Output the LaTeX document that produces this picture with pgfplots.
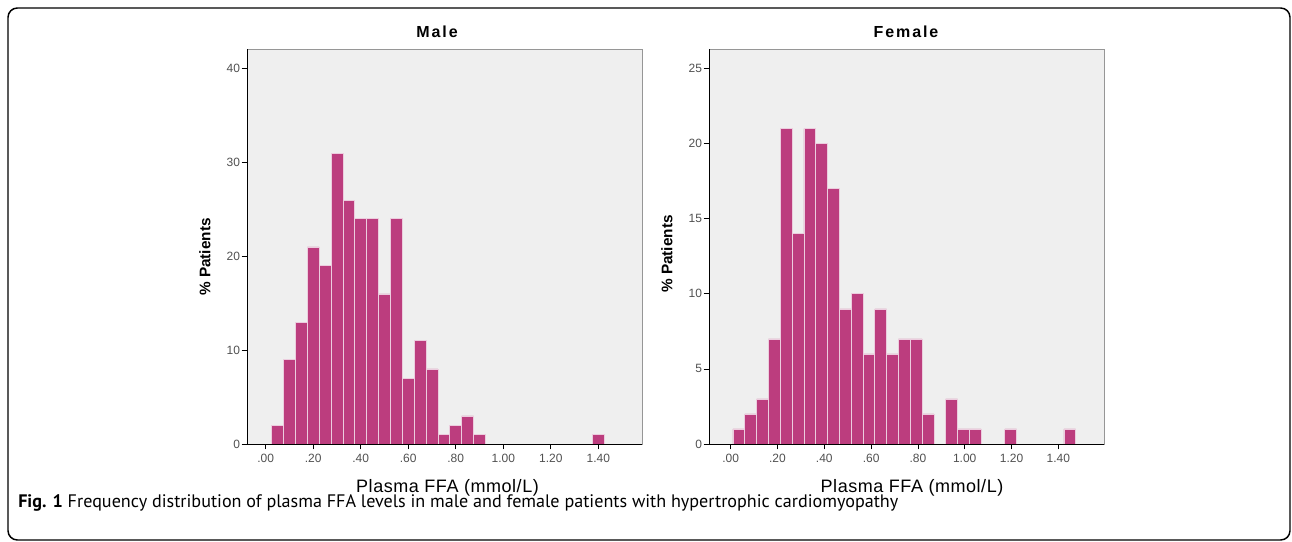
\documentclass[border=0pt]{standalone}
\usepackage{pgfplots}
\pgfplotsset{compat=1.18}
\usepackage{fontspec}
\setmainfont{Liberation Sans}
\newfontfamily\titlefont[LetterSpace=12]{Liberation Sans}
\newfontfamily\xlabfont[LetterSpace=3]{Liberation Sans}
\newfontfamily\capfont{PT Sans}
\definecolor{barfill}{RGB}{188,61,126}
\definecolor{baredge}{RGB}{236,205,222}
\definecolor{plotbg}{RGB}{239,239,239}
\definecolor{ticklab}{RGB}{80,80,80}
\definecolor{framegray}{RGB}{150,150,150}

\pgfplotsset{
  hist/.style={
    scale only axis, width=296.25pt, height=296.25pt, anchor=south west,
    axis background/.style={fill=plotbg},
    axis line style={draw=framegray, line width=0.6pt},
    ymin=0,
    xtick={0,0.2,0.4,0.6,0.8,1.0,1.2,1.4},
    xticklabels={.00,.20,.40,.60,.80,1.00,1.20,1.40},
    tick align=outside, xtick pos=bottom, ytick pos=left,
    major tick length=4pt,
    tick style={black, line width=0.6pt},
    ticklabel style={font=\fontsize{9}{11}\selectfont, text=ticklab},
    yticklabel style={inner xsep=1pt},
    /pgf/number format/assume math mode=true,
    clip=false,
  },
  barstyle/.style={ybar, bar width=0.05, bar shift=0pt, fill=barfill, draw=baredge, line width=0.5pt},
}

\begin{document}
\begin{tikzpicture}
\begin{scope}[x=0.75pt, y=-0.75pt]
\path[use as bounding box] (0,0) rectangle (1292,542);
\draw[line width=1.1pt, rounded corners=7pt] (8,8) rectangle (1290,540);
\end{scope}

% Male
\begin{axis}[hist, at={(185.25pt,-333pt)},
  xmin=-0.0787, xmax=1.584, ymax=42.1,
  ytick={0,10,20,30,40}]
\addplot[barstyle] coordinates {
(0.05,2) (0.10,9) (0.15,13) (0.20,21) (0.25,19) (0.30,31) (0.35,26)
(0.40,24) (0.45,24) (0.50,16) (0.55,24) (0.60,7) (0.65,11) (0.70,8)
(0.75,1) (0.80,2) (0.85,3) (0.90,1) (1.40,1)};
\draw[black, line width=0.7pt] (rel axis cs:0,1) |- (rel axis cs:1,0);
\end{axis}

% Female
\begin{axis}[hist, at={(531.75pt,-333pt)},
  xmin=-0.0925, xmax=1.595, ymax=26.3,
  ytick={0,5,10,15,20,25}]
\addplot[barstyle, bar width=0.0505] coordinates {
(0.035,1) (0.0855,2) (0.136,3) (0.1865,7) (0.237,21) (0.2875,14) (0.338,21)
(0.3885,20) (0.439,17) (0.4895,9) (0.540,10) (0.5905,6) (0.641,9) (0.6915,6)
(0.742,7) (0.7925,7) (0.843,2) (0.944,3) (0.9945,1) (1.045,1) (1.1965,1) (1.449,1)};
\draw[black, line width=0.7pt] (rel axis cs:0,1) |- (rel axis cs:1,0);
\end{axis}

\begin{scope}[x=0.75pt, y=-0.75pt]
\node[font=\titlefont\bfseries\fontsize{12}{14}\selectfont] at (437,32) {Male};
\node[font=\titlefont\bfseries\fontsize{12}{14}\selectfont] at (906,32) {Female};
\node[font=\xlabfont\fontsize{13.5}{16}\selectfont] at (447.5,488) {Plasma FFA (mmol/L)};
\node[font=\xlabfont\fontsize{13.5}{16}\selectfont] at (912,488) {Plasma FFA (mmol/L)};
\node[font=\bfseries\fontsize{11.5}{14}\selectfont, rotate=90] at (205,257) {\% Patients};
\node[font=\bfseries\fontsize{11.5}{14}\selectfont, rotate=90] at (667,254) {\% Patients};
\node[anchor=west, inner sep=0pt] at (18,503) {\resizebox{660pt}{!}{\capfont\fontsize{12}{14}\selectfont\textbf{Fig. 1} Frequency distribution of plasma FFA levels in male and female patients with hypertrophic cardiomyopathy}};
\end{scope}
\end{tikzpicture}
\end{document}
